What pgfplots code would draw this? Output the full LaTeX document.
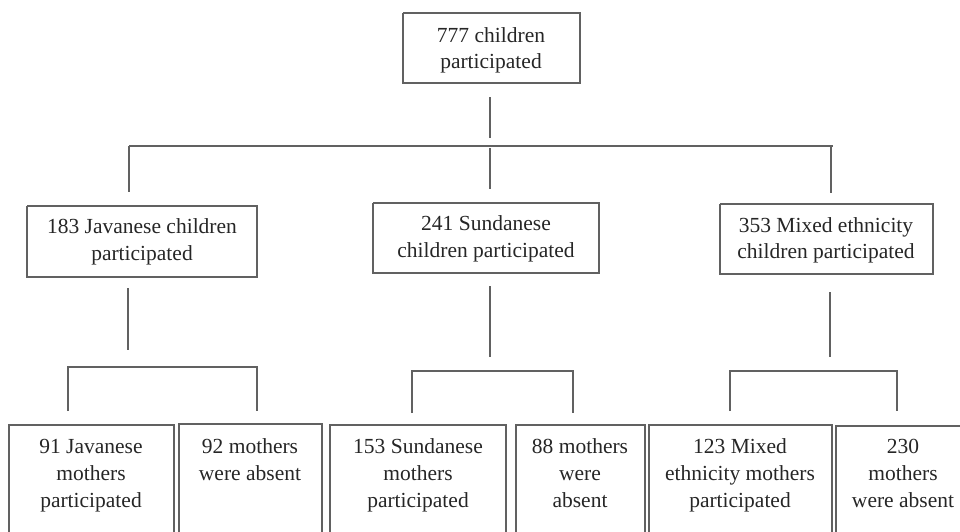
\documentclass[border=0pt]{standalone}
\usepackage{pgfplots}
\pgfplotsset{compat=1.18}
\usepackage{fontspec}
\setmainfont{Liberation Serif}
\tikzset{lbl/.style={anchor=base, inner sep=0pt, text=black!85, font=\fontsize{21.5}{27}\selectfont},
  ln/.style={draw=black!62, line width=1.6pt, mark=none, solid}}
\begin{document}
\begin{tikzpicture}
\begin{axis}[scale only axis, width=960pt, height=531pt,
  xmin=0, xmax=960, ymin=0, ymax=531, y dir=reverse,
  axis lines=none, clip=true]
\addplot[draw=none] coordinates {(0,0) (960,531)};
% top box
\addplot[ln] coordinates {(403,13) (580,13) (580,83) (403,83) (403,13)};
\addplot[ln] coordinates {(490,97) (490,138)};
\addplot[ln] coordinates {(129,146) (833,146)};
\addplot[ln] coordinates {(129,146) (129,192)};
\addplot[ln] coordinates {(490,148) (490,189)};
\addplot[ln] coordinates {(831,146) (831,193)};
% middle boxes
\addplot[ln] coordinates {(27,206) (257,206) (257,277) (27,277) (27,206)};
\addplot[ln] coordinates {(373,203) (599,203) (599,273) (373,273) (373,203)};
\addplot[ln] coordinates {(720,204) (933,204) (933,274) (720,274) (720,204)};
\addplot[ln] coordinates {(128,288) (128,350)};
\addplot[ln] coordinates {(490,286) (490,357)};
\addplot[ln] coordinates {(830,292) (830,357)};
% brackets
\addplot[ln] coordinates {(68,411) (68,367) (257,367) (257,411)};
\addplot[ln] coordinates {(412,413) (412,371) (573,371) (573,413)};
\addplot[ln] coordinates {(730,411) (730,371) (897,371) (897,411)};
% bottom boxes
\addplot[ln] coordinates {(9,545) (9,425) (174,425) (174,545)};
\addplot[ln] coordinates {(179,545) (179,424) (322,424) (322,545)};
\addplot[ln] coordinates {(330,545) (330,425) (506,425) (506,545)};
\addplot[ln] coordinates {(516,545) (516,425) (645,425) (645,545)};
\addplot[ln] coordinates {(649,545) (649,425) (832,425) (832,545)};
\addplot[ln] coordinates {(836,545) (836,426) (975,426) (975,545)};
% texts
\node[lbl] at (axis cs:491,42) {777 children};
\node[lbl] at (axis cs:491,68) {participated};
\node[lbl] at (axis cs:142,233) {183 Javanese children};
\node[lbl] at (axis cs:142,260) {participated};
\node[lbl] at (axis cs:486,230) {241 Sundanese};
\node[lbl] at (axis cs:486,257) {children participated};
\node[lbl] at (axis cs:826,232) {353 Mixed ethnicity};
\node[lbl] at (axis cs:826,258) {children participated};
\node[lbl] at (axis cs:91,453) {91 Javanese};
\node[lbl] at (axis cs:91,480) {mothers};
\node[lbl] at (axis cs:91,507) {participated};
\node[lbl] at (axis cs:250,453) {92 mothers};
\node[lbl] at (axis cs:250,480) {were absent};
\node[lbl] at (axis cs:418,453) {153 Sundanese};
\node[lbl] at (axis cs:418,480) {mothers};
\node[lbl] at (axis cs:418,507) {participated};
\node[lbl] at (axis cs:580,453) {88 mothers};
\node[lbl] at (axis cs:580,480) {were};
\node[lbl] at (axis cs:580,507) {absent};
\node[lbl] at (axis cs:740,453) {123 Mixed};
\node[lbl] at (axis cs:740,480) {ethnicity mothers};
\node[lbl] at (axis cs:740,507) {participated};
\node[lbl] at (axis cs:903,453) {230};
\node[lbl] at (axis cs:903,480) {mothers};
\node[lbl] at (axis cs:903,507) {were absent};
\end{axis}
\end{tikzpicture}
\end{document}
